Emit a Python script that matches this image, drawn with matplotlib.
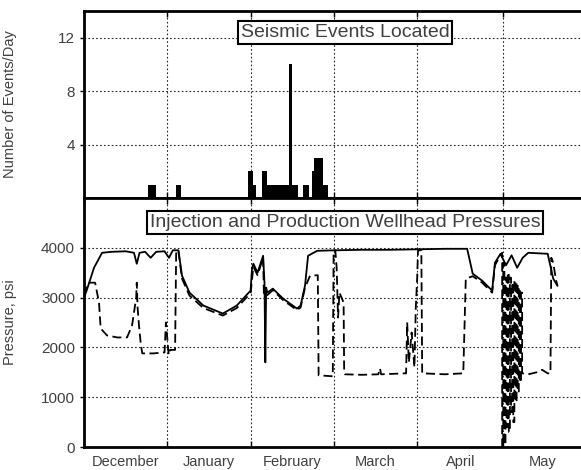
import numpy as np
import matplotlib
matplotlib.use('Agg')
from matplotlib import pyplot as plt

plt.rcParams['font.family'] = ['Liberation Sans', 'DejaVu Sans']

# month boundaries (day number from Dec 1) and labels
month_edges = [0, 30, 60, 90, 120, 151]
month_mid = [15, 45, 75, 105, 135.5, 165]
month_names = ['December', 'January', 'February', 'March', 'April', 'May']

# seismic events per day
event_day = [23, 24, 25, 33, 34, 59, 60, 61, 64, 65, 66, 67, 68, 69, 70, 71, 72, 73,
             74, 75, 76, 79, 80, 82, 83, 84, 85, 86, 87]
event_count = [1, 1, 1, 1, 1, 2, 2, 1, 2, 2, 1, 1, 1, 1, 1, 1, 1, 1,
               10, 1, 1, 1, 1, 2, 3, 3, 3, 1, 1]

# injection wellhead pressure (solid)
inj_day = [0, 1, 3.6, 6.5, 10, 15, 18, 19, 20, 22, 24, 26, 29, 30.6, 32, 34, 35.3, 38, 43,
           50, 55, 60, 60.5, 61, 62.5, 64.5, 65, 65.3, 65.6, 66, 68, 71.7, 76.7, 78, 79.6,
           80.7, 84, 90.5, 100, 110, 120, 130, 138, 140, 143.4, 147, 148, 150, 152, 154,
           156, 158, 160, 167, 169, 170.5]
inj_psi = [3000, 3150, 3600, 3900, 3920, 3930, 3900, 3680, 3900, 3920, 3800, 3920, 3930,
           3800, 3950, 3950, 3440, 3100, 2840, 2680, 2840, 3140, 3580, 3680, 3500, 3840,
           3300, 1700, 3200, 3100, 3180, 2980, 2780, 2840, 3240, 3840, 3940, 3950, 3960,
           3960, 3970, 3980, 3980, 3480, 3340, 3140, 3700, 3880, 3650, 3850, 3600, 3800,
           3900, 3880, 3380, 3240]

# production wellhead pressure (dashed)
prod_day = [0, 1.5, 4, 5.4, 6, 8.3, 12, 15.5, 17.3, 18.8, 19, 19.3, 19.8, 20.5, 21, 25, 29,
            29.5, 30.5, 31, 32.8, 33.2, 34, 35.3, 38, 43, 50, 55, 60, 61, 62.5, 64.5, 64.8,
            66, 68, 71.7, 76.7, 78, 79.6, 81.4, 84.2, 84.5, 89.6, 89.9, 90.5, 91, 91.5, 92,
            93.5, 93.7, 94, 100, 106, 106.6, 107, 116, 116.4, 117, 118, 119, 119.5, 120,
            120.3, 121.5, 121.8, 130, 136.6, 137.5, 140, 143.4, 147, 148, 150,
            150.6, 150.6, 151.0, 151.0, 151.4, 151.4, 151.8, 151.8, 152.2, 152.2,
            152.6, 152.6, 153.0, 153.0, 153.4, 153.4, 153.8, 153.8, 154.2, 154.2,
            154.6, 154.6, 155.0, 155.0, 155.4, 155.4, 155.8, 155.8, 156.2, 156.2,
            156.6, 156.6, 157.0, 157.0, 157.4, 157.4, 157.8, 157.8,
            160, 163, 165, 167, 168, 168.3, 169, 170, 170.5]
prod_psi = [3050, 3300, 3300, 2900, 2380, 2240, 2200, 2200, 2440, 3000, 3300, 2800, 2440,
            2040, 1880, 1880, 1900, 2500, 1850, 1950, 1950, 3950, 3930, 3380, 3040, 2790,
            2640, 2790, 3090, 3620, 3450, 3800, 3050, 3050, 3150, 2950, 2750, 2800, 3200,
            3440, 3450, 1440, 1420, 3950, 3950, 3600, 2600, 3100, 2900, 1500, 1460, 1450,
            1460, 1580, 1460, 1480, 2500, 1700, 2300, 1600, 2800, 3400, 3950, 3950, 1480,
            1460, 1480, 3380, 3430, 3300, 3100, 3650, 3850,
            3900, 0, 0, 3700, 3700, 50, 50, 3400, 3400, 400,
            400, 3500, 3500, 300, 300, 3400, 3400, 700, 700, 3300,
            3300, 500, 500, 3350, 3350, 900, 900, 3300, 3300, 1100,
            1100, 3200, 3200, 1300, 1300, 3100, 3100, 1480,
            1460, 1500, 1550, 1480, 1480, 3800, 3700, 3350, 3250]

fig = plt.figure(figsize=(5.81, 4.70), dpi=100)
ax1 = fig.add_axes([0.1446, 0.5787, 0.8554, 0.398])
ax2 = fig.add_axes([0.1446, 0.0489, 0.8554, 0.5298])

txt = '0.25'
grid_kw = dict(color='0.15', linestyle=(0, (1.5, 2)), linewidth=0.8)
box_kw = dict(boxstyle='square,pad=0.15', facecolor='white', edgecolor='black', lw=1.5)

# top panel - events
ax1.bar(event_day, event_count, width=1, align='edge', color='black')
ax1.set_ylim(0, 14)
ax1.set_yticks([4, 8, 12])
ax1.set_ylabel('Number of Events/Day', fontsize=10.5, color=txt)
ax1.text(0.525, 0.885, 'Seismic Events Located', transform=ax1.transAxes, ha='center',
         va='center', fontsize=14, color=txt, bbox=box_kw)

# bottom panel - pressures
ax2.plot(inj_day, inj_psi, color='black', lw=1.3)
ax2.plot(prod_day, prod_psi, color='black', lw=1.3, linestyle=(0, (5, 2.5)))
ax2.set_ylim(0, 5000)
ax2.set_yticks([0, 1000, 2000, 3000, 4000])
ax2.set_ylabel('Pressure, psi', fontsize=10.5, color=txt)
ax2.text(0.525, 0.9, 'Injection and Production Wellhead Pressures', transform=ax2.transAxes,
         ha='center', va='center', fontsize=14, color=txt, bbox=box_kw)

for ax in (ax1, ax2):
    ax.set_xlim(0, 179)
    ax.set_xticks(month_edges)
    ax.set_xticklabels([])
    ax.set_xticks(month_mid, minor=True)
    ax.tick_params(which='major', direction='in', length=4, top=True, width=1)
    ax.tick_params(axis='y', direction='out', length=3, labelsize=11, labelcolor=txt)
    ax.tick_params(which='minor', length=0)
    ax.grid(True, **grid_kw)
    ax.set_axisbelow(True)
    ax.spines['right'].set_visible(False)
    for s in ('left', 'top', 'bottom'):
        ax.spines[s].set_linewidth(2)
    ax.yaxis.set_label_coords(-0.135, 0.5)

ax1.set_xticklabels([], minor=True)
ax2.set_xticklabels(month_names, minor=True, fontsize=10.5, color=txt)
ax2.tick_params(which='minor', pad=6)

fig.savefig('out.png', dpi=100)
